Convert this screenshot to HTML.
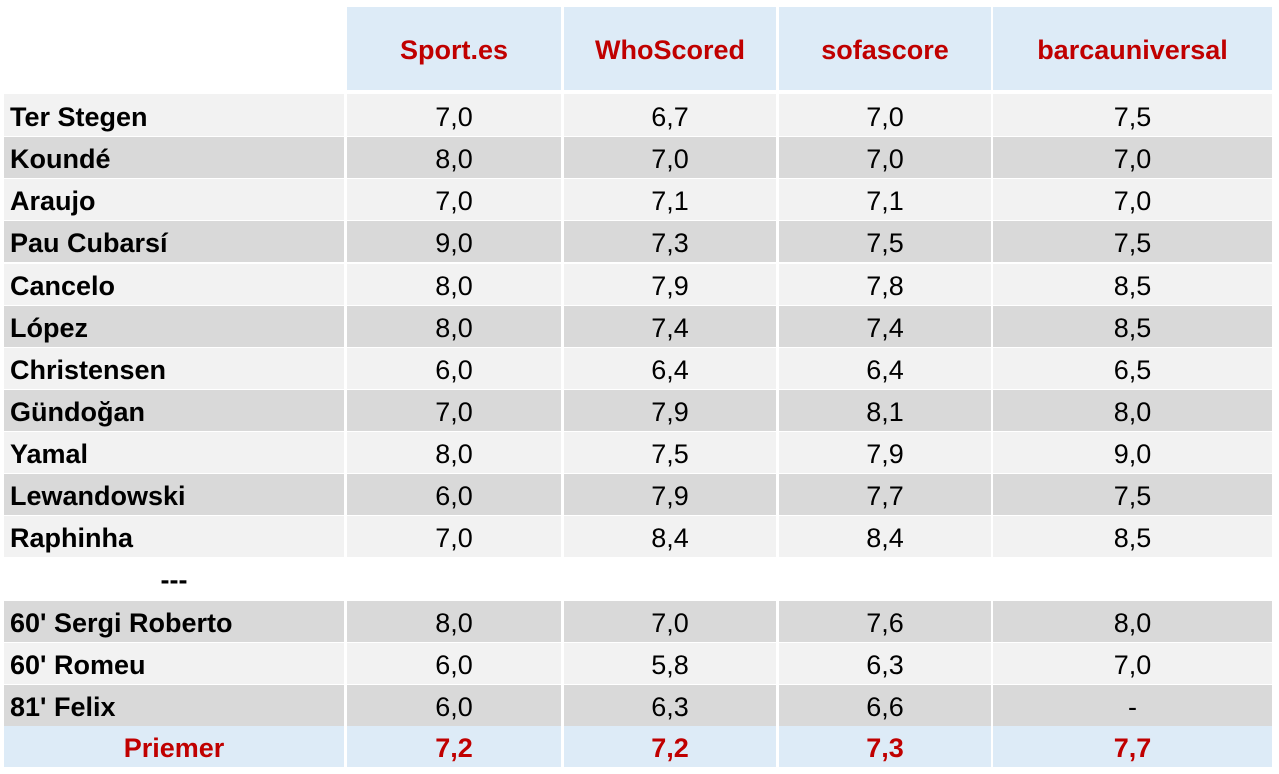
<!DOCTYPE html>
<html>
<head>
<meta charset="utf-8">
<style>
html,body{margin:0;padding:0;background:#fff;}
body{width:1279px;height:774px;position:relative;overflow:hidden;font-family:"Liberation Sans","DejaVu Sans",sans-serif;}
.c{position:absolute;height:41px;line-height:45px;font-size:27px;color:#000;text-align:center;white-space:nowrap;}
.n{text-align:left;padding-left:6px;box-sizing:border-box;font-weight:bold;}
.l{background:#f2f2f2;}
.d{background:#d9d9d9;}
.b{background:#ddebf7;}
.h{position:absolute;top:7px;height:83px;line-height:87px;font-size:27px;font-weight:bold;color:#c00000;text-align:center;background:#ddebf7;}
.r{color:#c00000;font-weight:bold;}
.c1{left:4px;width:340px;}
.c2{left:347px;width:214px;}
.c3{left:564px;width:212px;}
.c4{left:779px;width:212px;}
.c5{left:993px;width:279px;}
</style>
</head>
<body>
<div class="h c2">Sport.es</div>
<div class="h c3">WhoScored</div>
<div class="h c4">sofascore</div>
<div class="h c5">barcauniversal</div>

<div class="c n l c1" style="top:94px;height:42px;line-height:46px">Ter Stegen</div>
<div class="c l c2" style="top:94px;height:42px;line-height:46px">7,0</div>
<div class="c l c3" style="top:94px;height:42px;line-height:46px">6,7</div>
<div class="c l c4" style="top:94px;height:42px;line-height:46px">7,0</div>
<div class="c l c5" style="top:94px;height:42px;line-height:46px">7,5</div>

<div class="c n d c1" style="top:137px">Koundé</div>
<div class="c d c2" style="top:137px">8,0</div>
<div class="c d c3" style="top:137px">7,0</div>
<div class="c d c4" style="top:137px">7,0</div>
<div class="c d c5" style="top:137px">7,0</div>

<div class="c n l c1" style="top:179px">Araujo</div>
<div class="c l c2" style="top:179px">7,0</div>
<div class="c l c3" style="top:179px">7,1</div>
<div class="c l c4" style="top:179px">7,1</div>
<div class="c l c5" style="top:179px">7,0</div>

<div class="c n d c1" style="top:221px">Pau Cubarsí</div>
<div class="c d c2" style="top:221px">9,0</div>
<div class="c d c3" style="top:221px">7,3</div>
<div class="c d c4" style="top:221px">7,5</div>
<div class="c d c5" style="top:221px">7,5</div>

<div class="c n l c1" style="top:264px">Cancelo</div>
<div class="c l c2" style="top:264px">8,0</div>
<div class="c l c3" style="top:264px">7,9</div>
<div class="c l c4" style="top:264px">7,8</div>
<div class="c l c5" style="top:264px">8,5</div>

<div class="c n d c1" style="top:306px">López</div>
<div class="c d c2" style="top:306px">8,0</div>
<div class="c d c3" style="top:306px">7,4</div>
<div class="c d c4" style="top:306px">7,4</div>
<div class="c d c5" style="top:306px">8,5</div>

<div class="c n l c1" style="top:348px">Christensen</div>
<div class="c l c2" style="top:348px">6,0</div>
<div class="c l c3" style="top:348px">6,4</div>
<div class="c l c4" style="top:348px">6,4</div>
<div class="c l c5" style="top:348px">6,5</div>

<div class="c n d c1" style="top:390px">Gündoğan</div>
<div class="c d c2" style="top:390px">7,0</div>
<div class="c d c3" style="top:390px">7,9</div>
<div class="c d c4" style="top:390px">8,1</div>
<div class="c d c5" style="top:390px">8,0</div>

<div class="c n l c1" style="top:432px">Yamal</div>
<div class="c l c2" style="top:432px">8,0</div>
<div class="c l c3" style="top:432px">7,5</div>
<div class="c l c4" style="top:432px">7,9</div>
<div class="c l c5" style="top:432px">9,0</div>

<div class="c n d c1" style="top:474px">Lewandowski</div>
<div class="c d c2" style="top:474px">6,0</div>
<div class="c d c3" style="top:474px">7,9</div>
<div class="c d c4" style="top:474px">7,7</div>
<div class="c d c5" style="top:474px">7,5</div>

<div class="c n l c1" style="top:516px">Raphinha</div>
<div class="c l c2" style="top:516px">7,0</div>
<div class="c l c3" style="top:516px">8,4</div>
<div class="c l c4" style="top:516px">8,4</div>
<div class="c l c5" style="top:516px">8,5</div>

<div class="c c1" style="top:558px;font-weight:bold">---</div>

<div class="c n d c1" style="top:601px">60' Sergi Roberto</div>
<div class="c d c2" style="top:601px">8,0</div>
<div class="c d c3" style="top:601px">7,0</div>
<div class="c d c4" style="top:601px">7,6</div>
<div class="c d c5" style="top:601px">8,0</div>

<div class="c n l c1" style="top:643px">60' Romeu</div>
<div class="c l c2" style="top:643px">6,0</div>
<div class="c l c3" style="top:643px">5,8</div>
<div class="c l c4" style="top:643px">6,3</div>
<div class="c l c5" style="top:643px">7,0</div>

<div class="c n d c1" style="top:685px">81' Felix</div>
<div class="c d c2" style="top:685px">6,0</div>
<div class="c d c3" style="top:685px">6,3</div>
<div class="c d c4" style="top:685px">6,6</div>
<div class="c d c5" style="top:685px">-</div>

<div class="c b r c1" style="top:726px">Priemer</div>
<div class="c b r c2" style="top:726px">7,2</div>
<div class="c b r c3" style="top:726px">7,2</div>
<div class="c b r c4" style="top:726px">7,3</div>
<div class="c b r c5" style="top:726px">7,7</div>
</body>
</html>
